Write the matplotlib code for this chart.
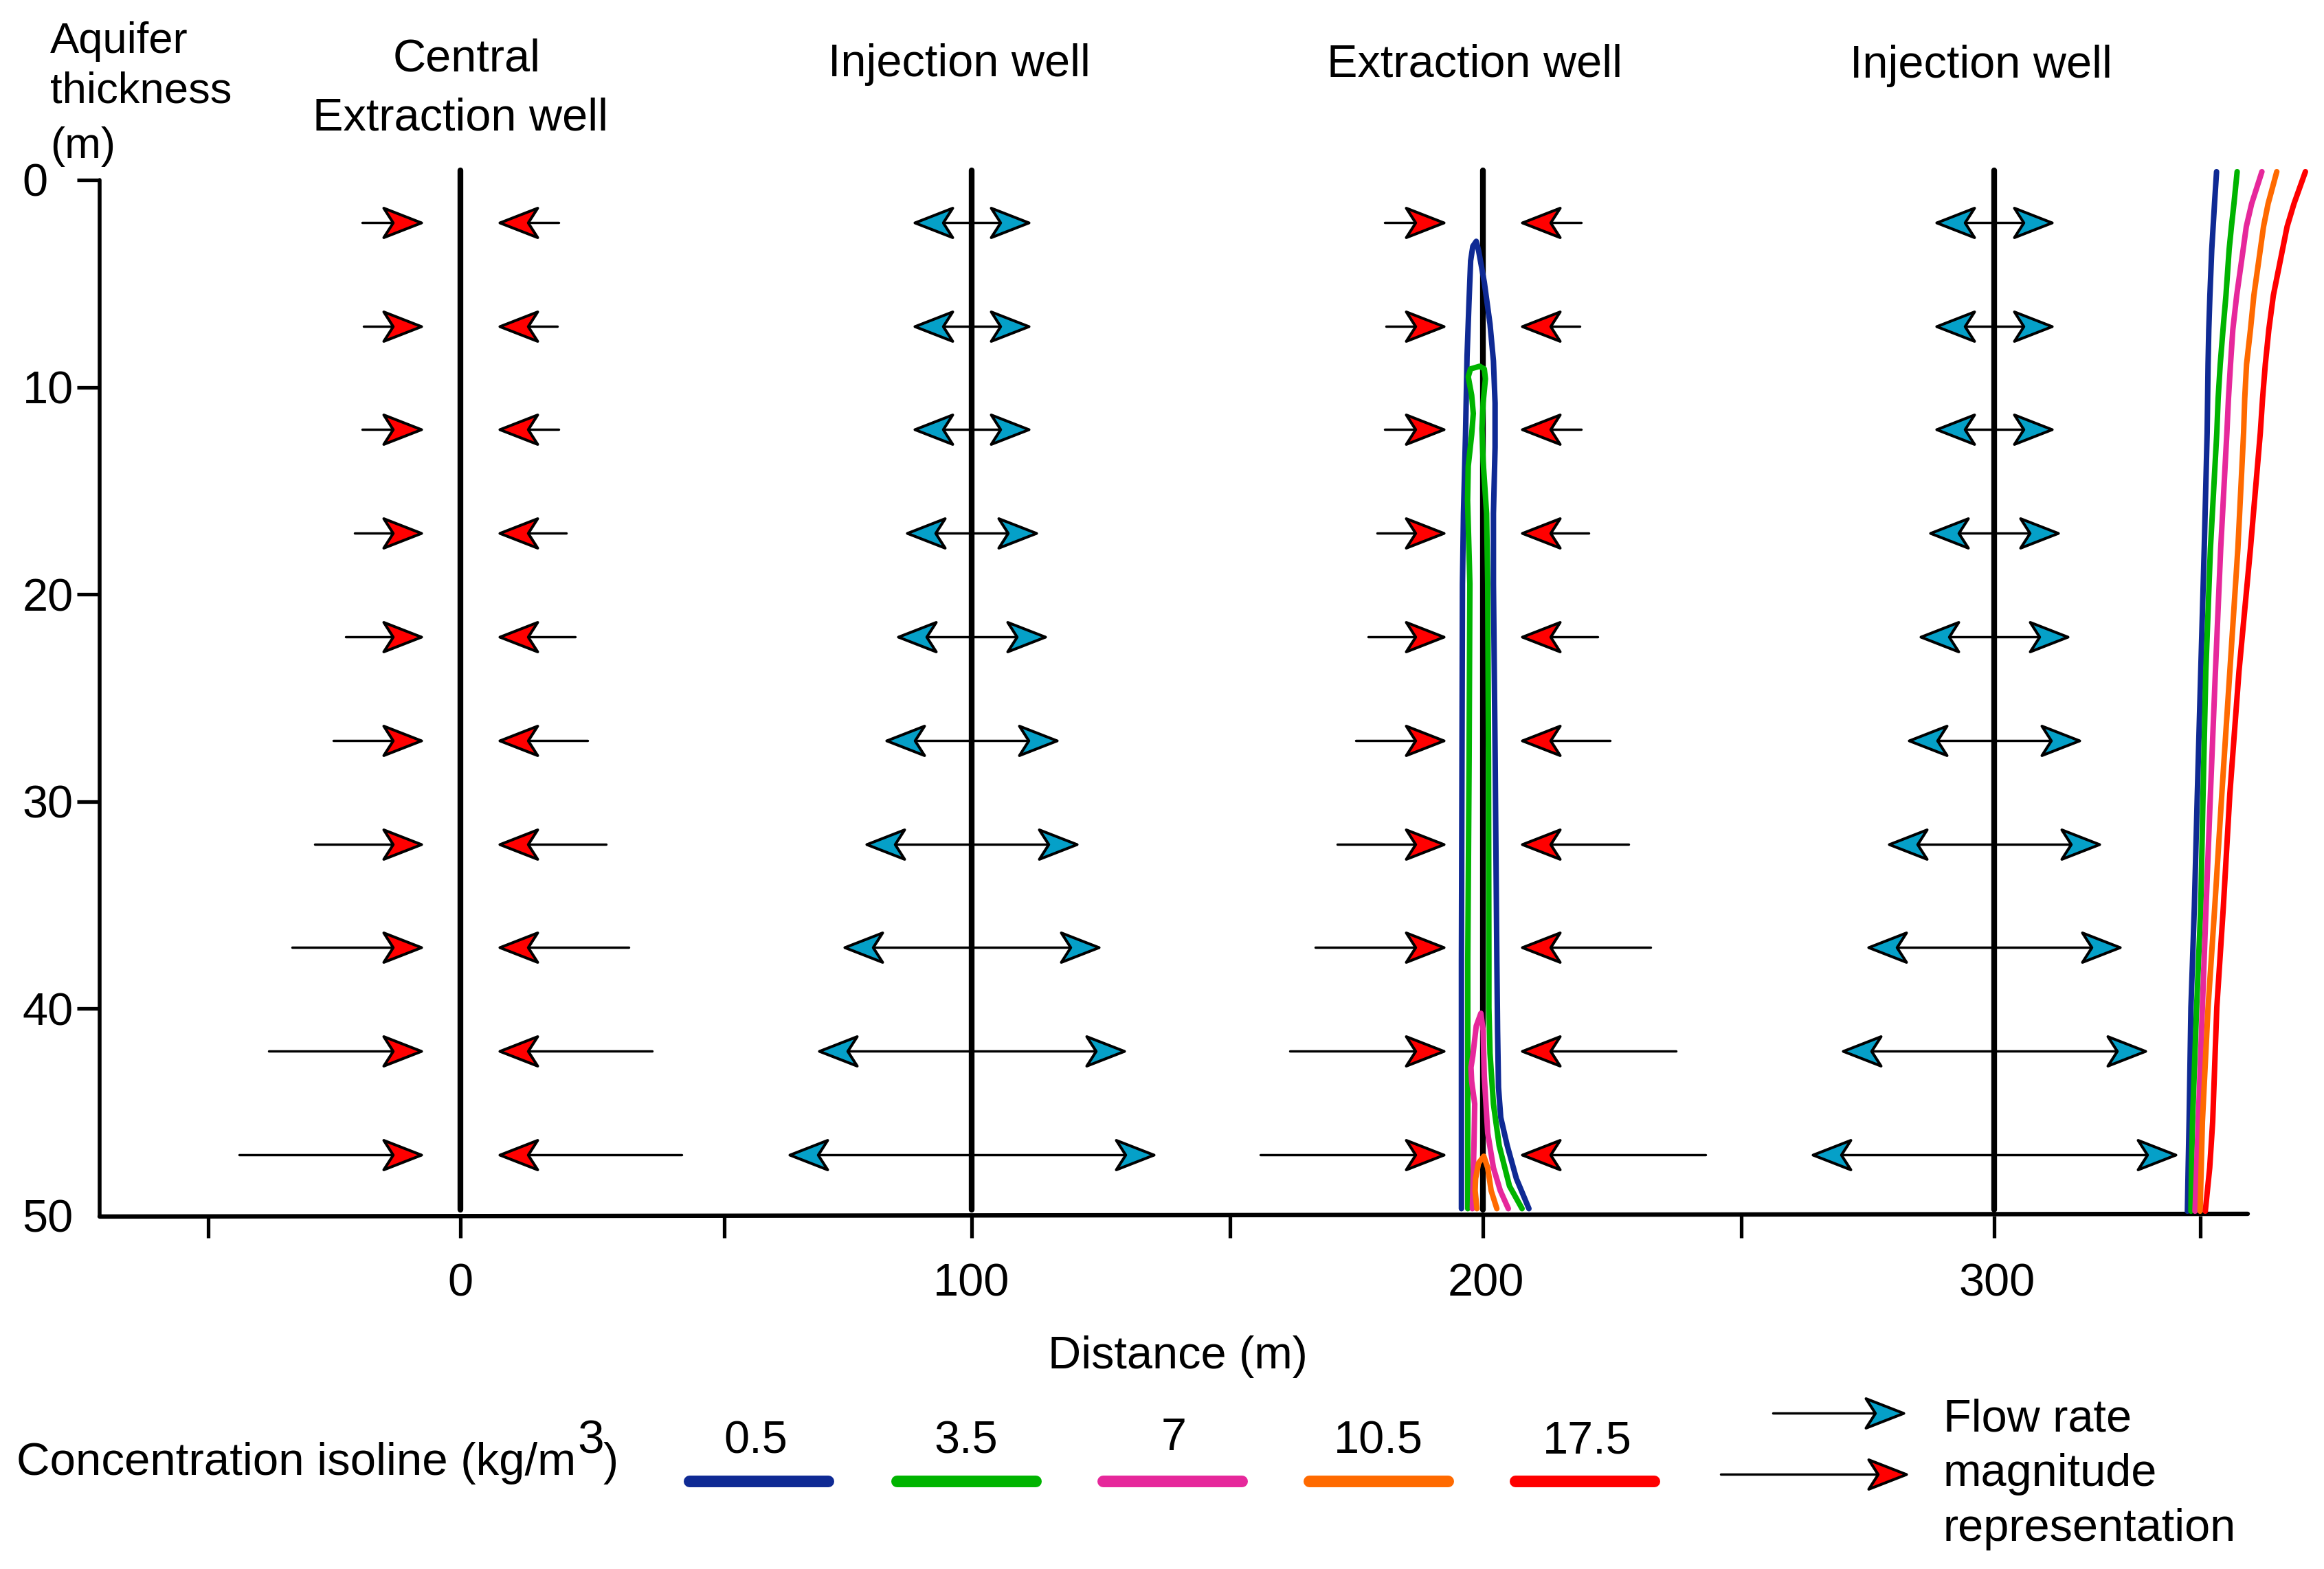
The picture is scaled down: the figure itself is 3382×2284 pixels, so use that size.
import numpy as np
import matplotlib
matplotlib.use('Agg')
import matplotlib.pyplot as plt
from matplotlib.path import Path

plt.rcParams['font.family'] = ['Liberation Sans', 'DejaVu Sans']

W, H = 3382, 2284
DPI = 200

# depth of the arrow rows (m)
depth = [2.05, 7.05, 12.05, 17.05, 22.05, 27.05, 32.05, 37.05, 42.05, 47.05]

well_x = [0, 100, 200, 300]
well_names = ['Injection well', 'Extraction well', 'Injection well']

# how far each arrow reaches from its well (m)
tail_ext_0 = [19.2, 18.9, 19.2, 20.7, 22.4, 24.8, 28.5, 32.9, 37.5, 43.3]
tip_inj_100 = [11.2, 11.2, 11.2, 12.7, 14.4, 16.7, 20.5, 24.8, 29.8, 35.6]
tail_ext_200 = [19.2, 18.9, 19.2, 20.7, 22.5, 24.8, 28.5, 32.8, 37.8, 43.5]
tip_inj_300 = [11.3, 11.3, 11.3, 12.5, 14.4, 16.7, 20.5, 24.6, 29.6, 35.5]
tip_ext = 7.6

c05, c35, c7, c105, c175 = '#0f2a94', '#00b400', '#e6289b', '#ff6a00', '#ff0000'
c_inj = '#05a0c8'
c_ext = '#ff0000'

# isolines around the well at 200 m
iso05_x = [195.8, 195.8, 196.0, 196.2, 196.6, 196.9, 197.27, 197.6, 198.03, 198.7, 199.15, 200.27, 201.39, 202.06, 202.38, 202.38,
           202.06, 202.06, 202.4, 202.73, 202.87, 203.05, 203.49, 204.75, 206.55, 209.0]
iso05_y = [49.65, 37.7, 19.5, 16.1, 12.3, 8.5, 5.95, 3.9, 3.2, 2.96, 3.4, 4.93, 6.96, 8.74, 10.77, 12.9,
           16.1, 19.5, 28, 37.73, 41.05, 43.8, 45.25, 46.6, 48.2, 49.65]
iso35_x = [197.04, 197.04, 197.3, 197.45, 197.36, 197.0, 197.13, 197.8, 198.12, 197.8, 197.13, 197.58, 199.37, 200.27, 200.49,
           200.04, 199.82, 200.04, 200.72, 200.94, 201.1, 201.17, 201.17, 201.39, 202.06, 203.18, 205.2, 207.66]
iso35_y = [49.65, 37.7, 28, 19.5, 18.63, 15.46, 13.81, 12.29, 11.27, 10.39, 9.5, 9.12, 8.99, 9.12, 9.6,
           10.77, 12.0, 13.56, 16.1, 19.5, 28, 37.73, 39.95, 42.15, 44.6, 46.6, 48.56, 49.65]
iso7_x = [197.94, 198.25, 198.4, 197.8, 197.67, 198.03, 198.7, 199.6, 200.04, 200.27, 200.94, 202.06, 203.4, 204.97]
iso7_y = [49.65, 46.6, 44.6, 43.5, 42.83, 42.27, 40.83, 40.22, 41.05, 43.25, 46.0, 47.68, 48.78, 49.65]
iso105_x = [198.83, 198.48, 198.57, 199.15, 200.18, 200.94, 201.61, 202.73]
iso105_y = [49.65, 48.78, 48.2, 47.45, 47.12, 47.68, 48.78, 49.65]

# isolines at the right hand side
right_y = [-0.4, 1.15, 2.25, 3.36, 5.57, 7.23, 8.89, 10.55, 12.2, 17.79, 23.71, 29.63, 35.08, 39.94, 45.46, 47.68, 49.77]
right05 = [343.5, 343.1, 342.83, 342.56, 342.2, 341.98, 341.84, 341.75, 341.66, 341.09, 340.41, 339.74, 339.16, 338.49, 338.13, 337.95, 337.8]
right35 = [347.53, 346.9, 346.41, 345.96, 345.34, 344.76, 344.22, 343.81, 343.55, 342.3, 341.4, 340.86, 340.41, 339.6, 338.8, 338.6, 338.49]
right7 = [352.37, 350.36, 349.32, 348.7, 347.44, 346.68, 346.23, 345.83, 345.52, 344.31, 343.28, 342.3, 341.45, 340.73, 339.92, 339.6, 339.29]
right105 = [355.28, 353.58, 352.69, 352.06, 350.8, 350.13, 349.37, 349.01, 348.79, 347.67, 346.1, 344.53, 343.15, 341.84, 340.73, 340.5, 340.28]
right175 = [360.88, 358.64, 357.3, 356.4, 354.61, 353.72, 353.04, 352.5, 352.06, 350.13, 347.89, 346.1, 344.83, 343.55, 342.74, 342.16, 341.3]

xtick_pos = [-49.3, 0, 51.6, 100, 150.5, 200, 250.5, 300, 340.3]
xlabel_pos = [0, 99.9, 200.6, 300.5]
xlabels = ['0', '100', '200', '300']
yticks = [0, 10, 20, 30, 40, 50]

legend_vals = ['0.5', '3.5', '7', '10.5', '17.5']
legend_colors = [c05, c35, c7, c105, c175]

fs = 24
px2pt = 72/DPI

# barbed arrow heads, tip at the origin
barb = [(0, 0), (-1, 0.39), (-0.75, 0), (-1, -0.39), (0, 0)]
head_r = Path(barb, closed=True)
head_l = Path([(-x, y) for x, y in barb], closed=True)
head_ms = 110*px2pt
head_mew = 1.45

fig = plt.figure(figsize=(W/DPI, H/DPI), dpi=DPI)

# axes box in pixels of the reference, 7.44 px/m with x=0 at 670 px
left_px, right_px, top_px, bot_px = 145, 3271, 262, 1770
ax = fig.add_axes([left_px/W, 1-bot_px/H, (right_px-left_px)/W, (bot_px-top_px)/H])
ax.set_xlim((left_px-670)/7.44, (right_px-670)/7.44)
ax.set_ylim(50, 0)
ax.patch.set_visible(False)
for s in ['top', 'right', 'bottom']:
    ax.spines[s].set_visible(False)
ax.spines['left'].set_linewidth(2.0)
ax.spines['left'].set_capstyle('round')

# the base line runs very slightly uphill in the original
ax.plot(ax.get_xlim(), [50.03, 49.9], color='k', lw=2.3, solid_capstyle='round', clip_on=False, zorder=2)

ax.set_yticks(yticks)
ax.set_xticks(xtick_pos)
ax.set_xticklabels([])
ax.tick_params(axis='x', width=1.9, length=11.5)
ax.tick_params(axis='y', width=1.9, length=12, labelsize=fs, pad=28.5)
for lab in ax.get_yticklabels():
    lab.set_ha('left')
ax.yaxis.get_major_ticks()[-1].tick1line.set_visible(False)

for x in well_x:
    ax.plot([x, x], [-0.47, 49.7], color='k', lw=3, solid_capstyle='round', clip_on=False, zorder=2)


def arrow(xtail, xtip, y, color):
    ax.plot([xtail, xtip], [y, y], color='k', lw=1.25, solid_capstyle='round', zorder=3)
    ax.plot([xtip], [y], marker=head_r if xtip > xtail else head_l, ms=head_ms, mfc=color, mec='k', mew=head_mew,
            ls='none', zorder=3.5)


for d, a, b, c, e in zip(depth, tail_ext_0, tip_inj_100, tail_ext_200, tip_inj_300):
    arrow(-a, -tip_ext, d, c_ext)
    arrow(a, tip_ext, d, c_ext)
    arrow(100, 100-b, d, c_inj)
    arrow(100, 100+b, d, c_inj)
    arrow(200-c, 200-tip_ext, d, c_ext)
    arrow(200+c, 200+tip_ext, d, c_ext)
    arrow(300, 300-e, d, c_inj)
    arrow(300, 300+e, d, c_inj)

lw = 2.9
for xs, ys, col in [(iso05_x, iso05_y, c05), (iso35_x, iso35_y, c35), (iso7_x, iso7_y, c7), (iso105_x, iso105_y, c105)]:
    ax.plot(xs, ys, color=col, lw=lw, solid_capstyle='round', solid_joinstyle='round', clip_on=False, zorder=4)
for xs, col in [(right05, c05), (right35, c35), (right7, c7), (right105, c105), (right175, c175)]:
    ax.plot(xs, right_y, color=col, lw=lw, solid_capstyle='round', solid_joinstyle='round', clip_on=False, zorder=4)

for x, s in zip(xlabel_pos, xlabels):
    ax.text(x, 53.85, s, ha='center', va='baseline', fontsize=fs, clip_on=False)

# everything outside the plot goes on an overlay in figure pixels
lax = fig.add_axes([0, 0, 1, 1])
lax.set_xlim(0, W)
lax.set_ylim(H, 0)
lax.axis('off')
lax.patch.set_visible(False)


def txt(x, y, s, ha='left', size=fs):
    lax.text(x, y, s, ha=ha, va='baseline', fontsize=size)


txt(73, 77, 'Aquifer', size=22.8)
txt(73, 150, 'thickness', size=22.8)
txt(73, 230, '(m)', size=22.8)
txt(679, 103, 'Central', 'center')
txt(670, 190, 'Extraction well', 'center')
for px, py, name in zip([1396, 2146, 2883], [111, 111, 113], well_names):
    txt(px, py, name, 'center')
txt(1714, 1992, 'Distance (m)', 'center')

txt(24, 2147, 'Concentration isoline (kg/m', size=24.2)
txt(840, 2115, '3', size=25)
txt(878, 2147, ')')

legend_start = [1003, 1305, 1605, 1905, 2205]
legend_text_x = [1100, 1406, 1708, 2006, 2310]
legend_text_y = [2115, 2115, 2111, 2115, 2115]
for x1, tx, ty, v, col in zip(legend_start, legend_text_x, legend_text_y, legend_vals, legend_colors):
    lax.plot([x1, x1+202], [2155.5, 2155.5], color=col, lw=6.1, solid_capstyle='round')
    txt(tx, ty, v, 'center')

for yy, x1, x2, col in [(2057, 2580, 2770, c_inj), (2146, 2504, 2774, c_ext)]:
    lax.plot([x1, x2], [yy, yy], color='k', lw=1.25, solid_capstyle='round')
    lax.plot([x2], [yy], marker=head_r, ms=head_ms, mfc=col, mec='k', mew=head_mew, ls='none')

txt(2828, 2084, 'Flow rate')
txt(2828, 2163, 'magnitude')
txt(2828, 2243, 'representation')

fig.savefig('out.png', dpi=DPI)
